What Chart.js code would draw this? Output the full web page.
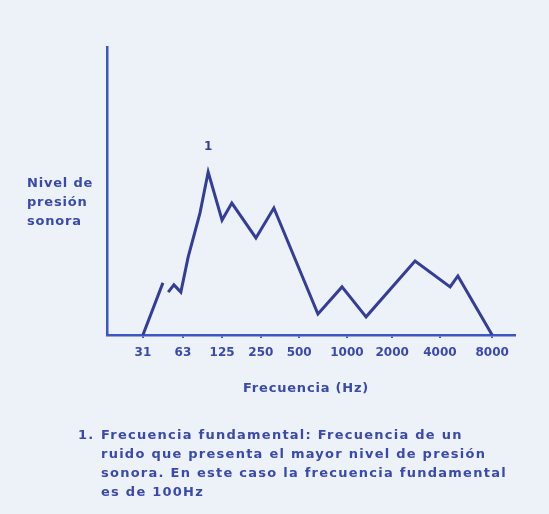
<!DOCTYPE html>
<html>
<head>
<meta charset="utf-8">
<script src="https://cdn.jsdelivr.net/npm/chart.js@4/dist/chart.umd.min.js"></script>
<style>
  body { margin: 0; background: #edf1f8; }
  #wrap { position: relative; width: 549px; height: 514px; }
  .txt { position: absolute; font-family: "DejaVu Sans", sans-serif; font-weight: bold; color: #3a49ad; font-size: 13px; letter-spacing: 0.8px; line-height: 19px; white-space: nowrap; }
  .nota { letter-spacing: 1.25px; }
</style>
</head>
<body>
<div id="wrap">
  <canvas id="canvasSonido" width="549" height="514"></canvas>
  <div class="txt" style="left:27px; top:173px;">Nivel de<br>presión<br>sonora</div>
  <div class="txt" style="left:243px; top:378px;">Frecuencia (Hz)</div>
  <div class="txt nota" style="left:78px; top:425px;">1.</div>
  <div class="txt nota" style="left:101px; top:425px;">Frecuencia fundamental: Frecuencia de un<br>ruido que presenta el mayor nivel de presión<br>sonora. En este caso la frecuencia fundamental<br>es de 100Hz</div>
</div>
<script>
// posiciones de las bandas de octava en el eje (0-100)
var tickPos = [8.8, 18.6, 28.2, 37.7, 47.1, 58.8, 69.9, 81.6, 94.4];
var tickLabels = ['31', '63', '125', '250', '500', '1000', '2000', '4000', '8000'];

// curva del nivel de presion sonora (null = corte en la linea)
var freqPos = [8.8, 13.7, 14.3, 15.0, 16.4, 18.1, 19.9, 22.8, 24.8, 28.2, 30.6, 36.5, 40.9, 51.7, 57.6, 63.5, 75.5, 84.1, 86.0, 94.4];
var nivel   = [0, 18.1, null, 14.9, 17.4, 14.9, 27.1, 42.4, 56.6, 39.9, 45.8, 33.7, 44.1, 7.3, 16.7, 6.3, 25.7, 16.7, 20.5, 0];

var azulEje = '#3d56c6';
var azulLinea = '#343d98';

var puntos = [];
for (var i in freqPos) {
  puntos.push({x: freqPos[i], y: nivel[i]});
}

// marca "1" sobre la frecuencia fundamental
var marcaPico = {
  id: 'marcaPico',
  afterDatasetsDraw: function(chart) {
    var ctx = chart.ctx;
    var maxI = 0;
    for (var i = 0; i < nivel.length; i++) {
      if (nivel[i] !== null && nivel[i] > nivel[maxI]) maxI = i;
    }
    var x = chart.scales.x.getPixelForValue(freqPos[maxI]);
    var y = chart.scales.y.getPixelForValue(nivel[maxI]);
    ctx.save();
    ctx.fillStyle = azulLinea;
    ctx.font = 'bold 12px "DejaVu Sans"';
    ctx.textAlign = 'center';
    ctx.fillText('1', x, y - 22);
    ctx.restore();
  }
};

var ctx = document.getElementById('canvasSonido');
var grafico = new Chart(ctx, {
  type: 'line',
  data: {
    datasets: [{
      data: puntos,
      borderColor: azulLinea,
      borderWidth: 3,
      pointRadius: 0,
      tension: 0,
      spanGaps: false
    }]
  },
  options: {
    responsive: false,
    animation: false,
    layout: { padding: { left: 107, top: 47, right: 34, bottom: 149 } },
    plugins: { legend: { display: false }, tooltip: { enabled: false } },
    scales: {
      x: {
        type: 'linear',
        min: 0,
        max: 100,
        afterBuildTicks: function(scale) {
          scale.ticks = tickPos.map(function(v) { return {value: v}; });
        },
        afterFit: function(scale) { scale.height = 30; },
        border: { color: azulEje, width: 2.5 },
        grid: { drawOnChartArea: false, color: azulEje, tickLength: 3, lineWidth: 2 },
        ticks: {
          autoSkip: false,
          maxRotation: 0,
          padding: 8,
          color: '#3a49ad',
          font: { family: 'DejaVu Sans', size: 12, weight: 'bold' },
          callback: function(value, index) { return tickLabels[index]; }
        }
      },
      y: {
        min: 0,
        max: 100,
        afterFit: function(scale) { scale.width = 0; },
        border: { color: azulEje, width: 2.5 },
        grid: { display: false },
        ticks: { display: false }
      }
    }
  },
  plugins: [marcaPico]
});
</script>
</body>
</html>
